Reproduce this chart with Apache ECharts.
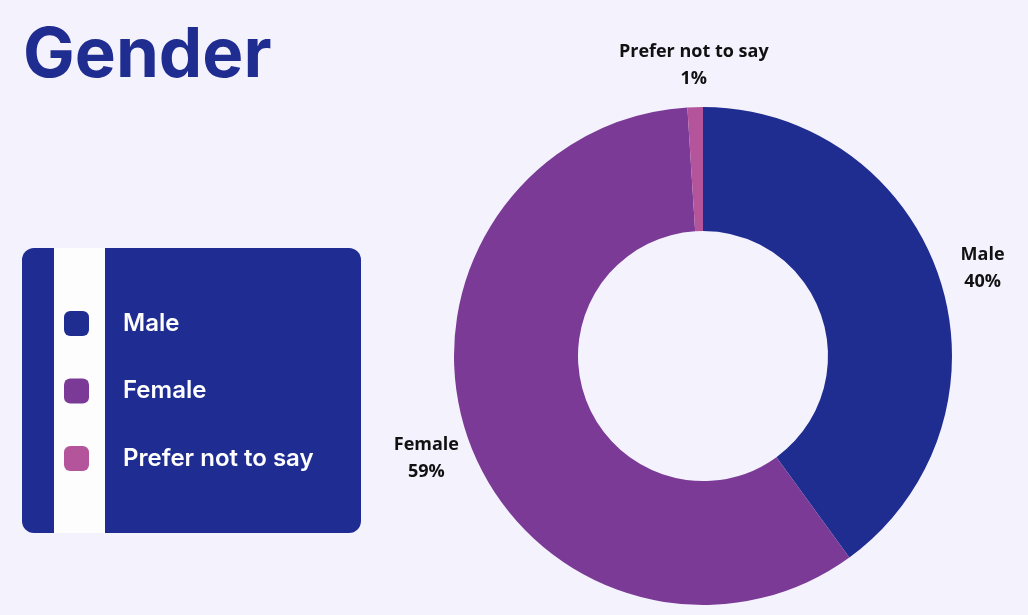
<!DOCTYPE html>
<html>
<head>
<meta charset="utf-8">
<script src="https://cdn.jsdelivr.net/npm/echarts@6/dist/echarts.min.js"></script>
<style>
  html, body { margin: 0; padding: 0; background: #f3f2fd; }
  #chart { width: 1028px; height: 615px; }
</style>
</head>
<body>
<div id="chart"></div>
<script>
// Survey responses by gender (percent)
const categories = ['Male', 'Female', 'Prefer not to say'];
const shares = [40, 59, 1];
const colors = ['#1f2d91', '#7a3a96', '#b4549a'];

const chart = echarts.init(document.getElementById('chart'));

const pieData = categories.map((name, i) => ({
  name: name,
  value: shares[i],
  itemStyle: { color: colors[i] }
}));

// rounded square used for legend markers
const roundSquare = 'path://M6,0 H18 A6,6 0 0 1 24,6 V18 A6,6 0 0 1 18,24 H6 A6,6 0 0 1 0,18 V6 A6,6 0 0 1 6,0 Z';

chart.setOption({
  backgroundColor: '#f3f2fd',
  animation: false,
  title: {
    text: 'Gender',
    left: 23,
    top: 22,
    padding: 0,
    textStyle: {
      fontFamily: 'Inter',
      fontWeight: 700,
      fontSize: 69,
      color: '#1f2d91',
      letterSpacing: -1.2
    }
  },
  graphic: [
    {
      type: 'rect',
      z: 0,
      shape: { x: 22, y: 248, width: 339, height: 285, r: 12 },
      style: { fill: '#1f2d93' }
    },
    {
      type: 'rect',
      z: 1,
      shape: { x: 54, y: 248, width: 51, height: 285 },
      style: { fill: '#fdfdfe' }
    }
  ],
  legend: {
    orient: 'vertical',
    left: 64,
    top: 311,
    padding: 0,
    z: 5,
    itemWidth: 25,
    itemHeight: 25,
    itemGap: 42.5,
    icon: roundSquare,
    selectedMode: false,
    data: categories,
    textStyle: {
      color: '#ffffff',
      fontFamily: 'Inter',
      fontWeight: 600,
      fontSize: 24,
      letterSpacing: 0,
      padding: [0, 0, 0, 29]
    }
  },
  series: [
    {
      type: 'pie',
      center: [703, 356],
      radius: [125, 249],
      startAngle: 90,
      clockwise: true,
      silent: true,
      label: { show: false },
      labelLine: { show: false },
      data: pieData
    },
    {
      // transparent ring carrying the outside category labels
      type: 'pie',
      center: [703, 356],
      radius: [289, 293],
      startAngle: 90,
      clockwise: true,
      silent: true,
      itemStyle: { color: 'transparent' },
      labelLine: { show: false },
      label: {
        show: true,
        position: 'inside',
        offset: [0, 3],
        formatter: p => p.name + '\n' + p.value + '%',
        color: '#111111',
        fontFamily: 'Open Sans',
        fontWeight: 700,
        fontSize: 18,
        letterSpacing: 0.4,
        lineHeight: 27,
        align: 'center'
      },
      data: categories.map((name, i) => ({ name: name, value: shares[i] }))
    }
  ]
});
</script>
</body>
</html>
